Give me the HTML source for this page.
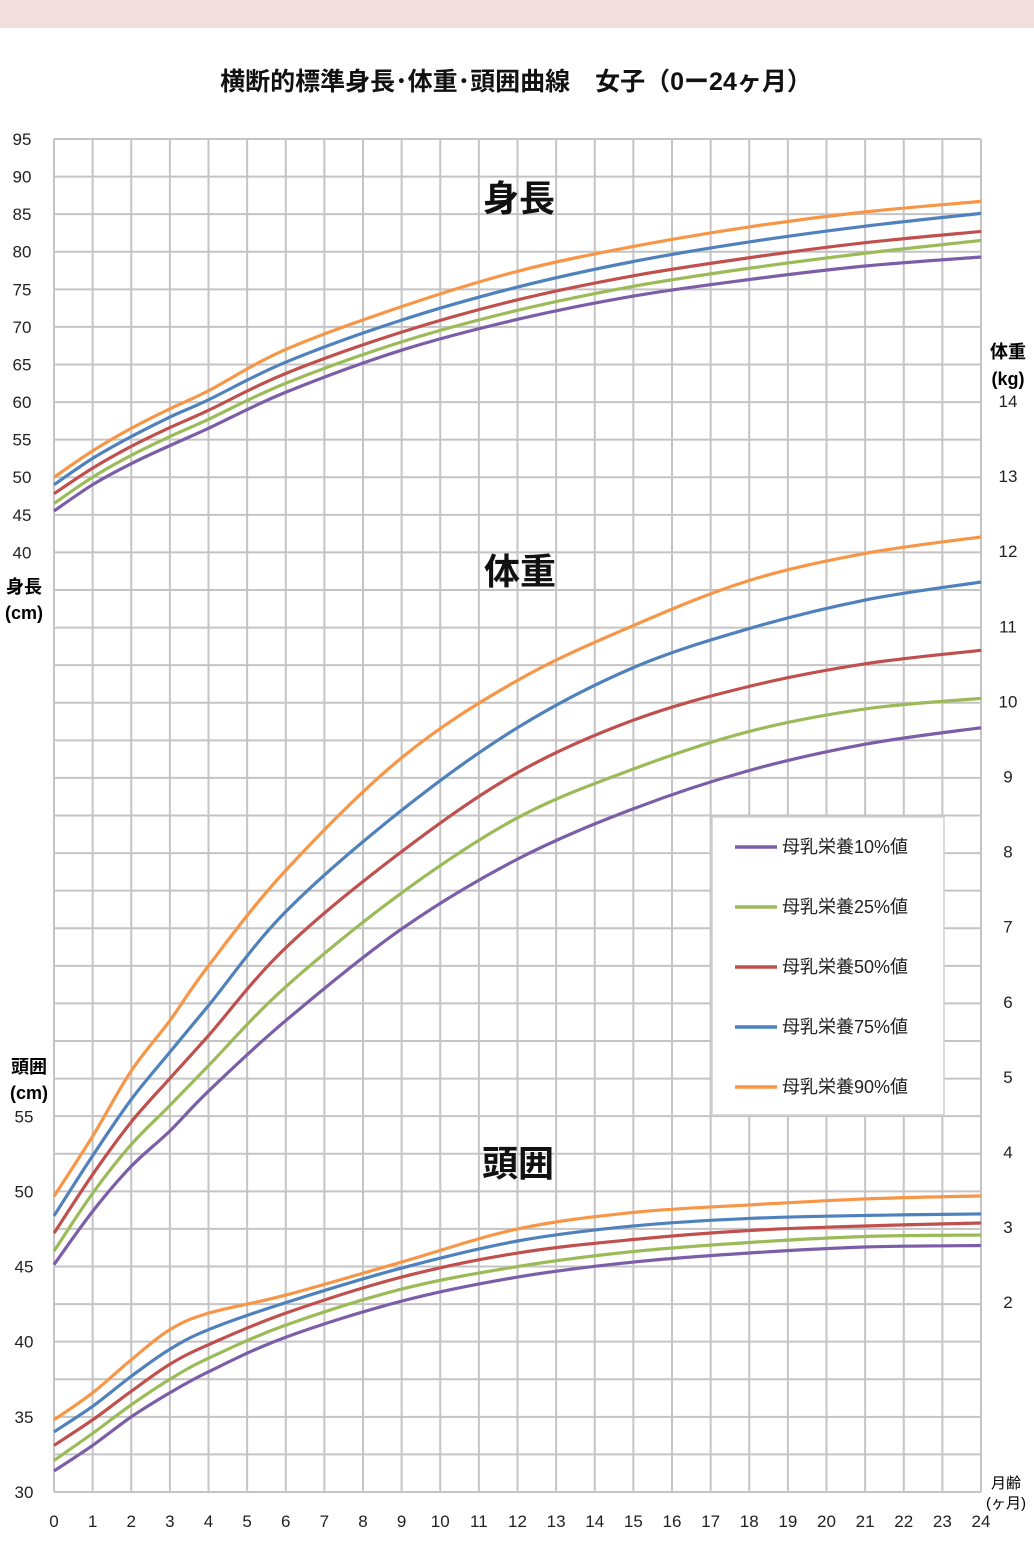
<!DOCTYPE html>
<html><head><meta charset="utf-8">
<style>
body{margin:0;width:1034px;height:1554px;background:#fff;overflow:hidden;font-family:"Liberation Sans","Noto Sans CJK JP",sans-serif;}
</style></head>
<body>
<svg id="chart" width="1034" height="1554" xmlns="http://www.w3.org/2000/svg" font-family="Liberation Sans, Noto Sans CJK JP, sans-serif">
<rect x="0" y="0" width="1034" height="28" fill="#f2e0e0"/>
<text x="516" y="90" text-anchor="middle" font-size="25" font-weight="bold" fill="#111">横断的標準身長･体重･頭囲曲線　女子（0ー24ヶ月）</text>
<g id="grid"></g>
<g id="axes"></g>
<g id="series"></g>
<text x="519" y="211" text-anchor="middle" font-size="36" font-weight="bold" fill="#111">身長</text>
<text x="520" y="584" text-anchor="middle" font-size="36" font-weight="bold" fill="#111">体重</text>
<text x="518" y="1176" text-anchor="middle" font-size="36" font-weight="bold" fill="#111">頭囲</text>
<text x="24" y="593" text-anchor="middle" font-size="18" font-weight="bold">身長</text>
<text x="24" y="619" text-anchor="middle" font-size="18" font-weight="bold">(cm)</text>
<text x="29" y="1073" text-anchor="middle" font-size="18" font-weight="bold">頭囲</text>
<text x="29" y="1099" text-anchor="middle" font-size="18" font-weight="bold">(cm)</text>
<text x="1008" y="358" text-anchor="middle" font-size="18" font-weight="bold">体重</text>
<text x="1008" y="385" text-anchor="middle" font-size="18" font-weight="bold">(kg)</text>
<text x="1006" y="1488" text-anchor="middle" font-size="15">月齢</text>
<text x="1006" y="1508" text-anchor="middle" font-size="15">(ヶ月)</text>
<g id="legend"></g>
</svg>
<script>
const months=[0,1,2,3,4,6,9,12,15,18,21,24];
const seriesNames=['母乳栄養10%値','母乳栄養25%値','母乳栄養50%値','母乳栄養75%値','母乳栄養90%値'];
const colors=['#7b5ea7','#9bbb59','#c0504d','#4f81bd','#f79646'];
const h10=[45.5,49.0,51.8,54.2,56.5,61.3,66.9,71.0,74.1,76.3,78.1,79.3];
const h25=[46.5,50.0,52.9,55.4,57.7,62.5,68.0,72.2,75.4,77.8,79.8,81.5];
const h50=[47.8,51.2,54.1,56.6,58.9,63.8,69.3,73.6,76.8,79.2,81.2,82.7];
const h75=[49.0,52.5,55.4,58.0,60.3,65.3,70.9,75.3,78.7,81.3,83.4,85.1];
const h90=[50.0,53.5,56.5,59.1,61.5,67.0,72.7,77.4,80.7,83.3,85.3,86.7];
const w10=[2.5,3.21,3.81,4.28,4.81,5.75,6.97,7.9,8.57,9.08,9.43,9.65];
const w25=[2.68,3.45,4.1,4.62,5.15,6.2,7.45,8.45,9.1,9.6,9.9,10.04];
const w50=[2.92,3.7,4.4,4.98,5.55,6.72,8.0,9.05,9.75,10.2,10.5,10.68];
const w75=[3.15,3.95,4.7,5.33,5.95,7.2,8.55,9.65,10.45,10.97,11.35,11.59];
const w90=[3.41,4.21,5.08,5.75,6.48,7.75,9.25,10.28,11.01,11.61,11.97,12.19];
const c10=[31.4,33.1,35.0,36.6,38.0,40.3,42.7,44.3,45.3,45.9,46.3,46.4];
const c25=[32.1,33.9,35.8,37.5,38.9,41.1,43.5,45.0,46.0,46.6,47.0,47.1];
const c50=[33.1,34.8,36.7,38.5,39.8,41.9,44.3,45.9,46.8,47.4,47.7,47.9];
const c75=[34.0,35.7,37.7,39.5,40.8,42.6,44.9,46.7,47.7,48.2,48.4,48.5];
const c90=[34.8,36.6,38.8,40.8,41.9,43.1,45.3,47.5,48.6,49.1,49.5,49.7];
const heightTicks=[95,90,85,80,75,70,65,60,55,50,45,40];
const headTicks=[55,50,45,40,35,30];
const weightTicks=[14,13,12,11,10,9,8,7,6,5,4,3,2];
const xTicks=[0,1,2,3,4,5,6,7,8,9,10,11,12,13,14,15,16,17,18,19,20,21,22,23,24];

const NS='http://www.w3.org/2000/svg';
const L=54,R=981,T=139,B=1492;
const xS=m=>L+(R-L)*m/24;
const yH=v=>T+(95-v)*7.515;
const yC=v=>B-(v-30)*15.03;
const yW=v=>401+(14-v)*75.1;
function mk(tag,attrs,parent){const e=document.createElementNS(NS,tag);for(const k in attrs)e.setAttribute(k,attrs[k]);parent.appendChild(e);return e;}
const grid=document.getElementById('grid'),axes=document.getElementById('axes'),ser=document.getElementById('series'),leg=document.getElementById('legend');
for(let i=0;i<=24;i++){const l=mk('line',{x1:xS(i),x2:xS(i),y1:T,y2:B,stroke:'#c4c4c4','stroke-width':2},grid);

}
const rows=36;for(let i=0;i<=rows;i++){const y=T+(B-T)*i/rows;const l=mk('line',{x1:L,x2:R,y1:y,y2:y,stroke:'#c4c4c4','stroke-width':2},grid);

}
function txt(s,x,y,anchor,name,size){const t=mk('text',{x:x,y:y,'text-anchor':anchor,'font-size':size||17,fill:'#222'},axes);t.textContent=s;

}
heightTicks.forEach(v=>txt(String(v),22,yH(v)+6,'middle','height-tick-label'));
headTicks.forEach(v=>txt(String(v),24,yC(v)+6,'middle','head-tick-label'));
weightTicks.forEach(v=>txt(String(v),1008,yW(v)+6,'middle','weight-tick-label'));
xTicks.forEach(v=>txt(String(v),xS(v),1527,'middle','x-tick-label'));
function pathD(xs,ys){const p=xs.map((x,i)=>[x,ys[i]]);let d='M'+p[0][0]+','+p[0][1];
for(let i=0;i<p.length-1;i++){const p0=p[i-1]||p[i],p1=p[i],p2=p[i+1],p3=p[i+2]||p2;
const c1=[p1[0]+(p2[0]-p0[0])/6,p1[1]+(p2[1]-p0[1])/6],c2=[p2[0]-(p3[0]-p1[0])/6,p2[1]-(p3[1]-p1[1])/6];
d+=' C'+c1[0]+','+c1[1]+' '+c2[0]+','+c2[1]+' '+p2[0]+','+p2[1];}return d;}
const groups=[['height',[h10,h25,h50,h75,h90],yH],['weight',[w10,w25,w50,w75,w90],yW],['head',[c10,c25,c50,c75,c90],yC]];
const pct=['p10','p25','p50','p75','p90'];
groups.forEach(g=>{g[1].forEach((arr,i)=>{const p=mk('path',{d:pathD(months.map(xS),arr.map(g[2])),fill:'none',stroke:colors[i],'stroke-width':3.2},ser);

});});
const box=mk('rect',{x:712,y:817,width:232,height:298,fill:'#fff',stroke:'#d0d0d0','stroke-width':1.5},leg);


seriesNames.forEach((n,i)=>{const y=845+i*60;
const g=mk('g',{},leg);


mk('line',{x1:735,x2:777,y1:y+2,y2:y+2,stroke:colors[i],'stroke-width':3.5},g);
const t=mk('text',{x:782,y:y+8,'font-size':18,fill:'#222'},g);t.textContent=n;});
</script>
</body></html>
